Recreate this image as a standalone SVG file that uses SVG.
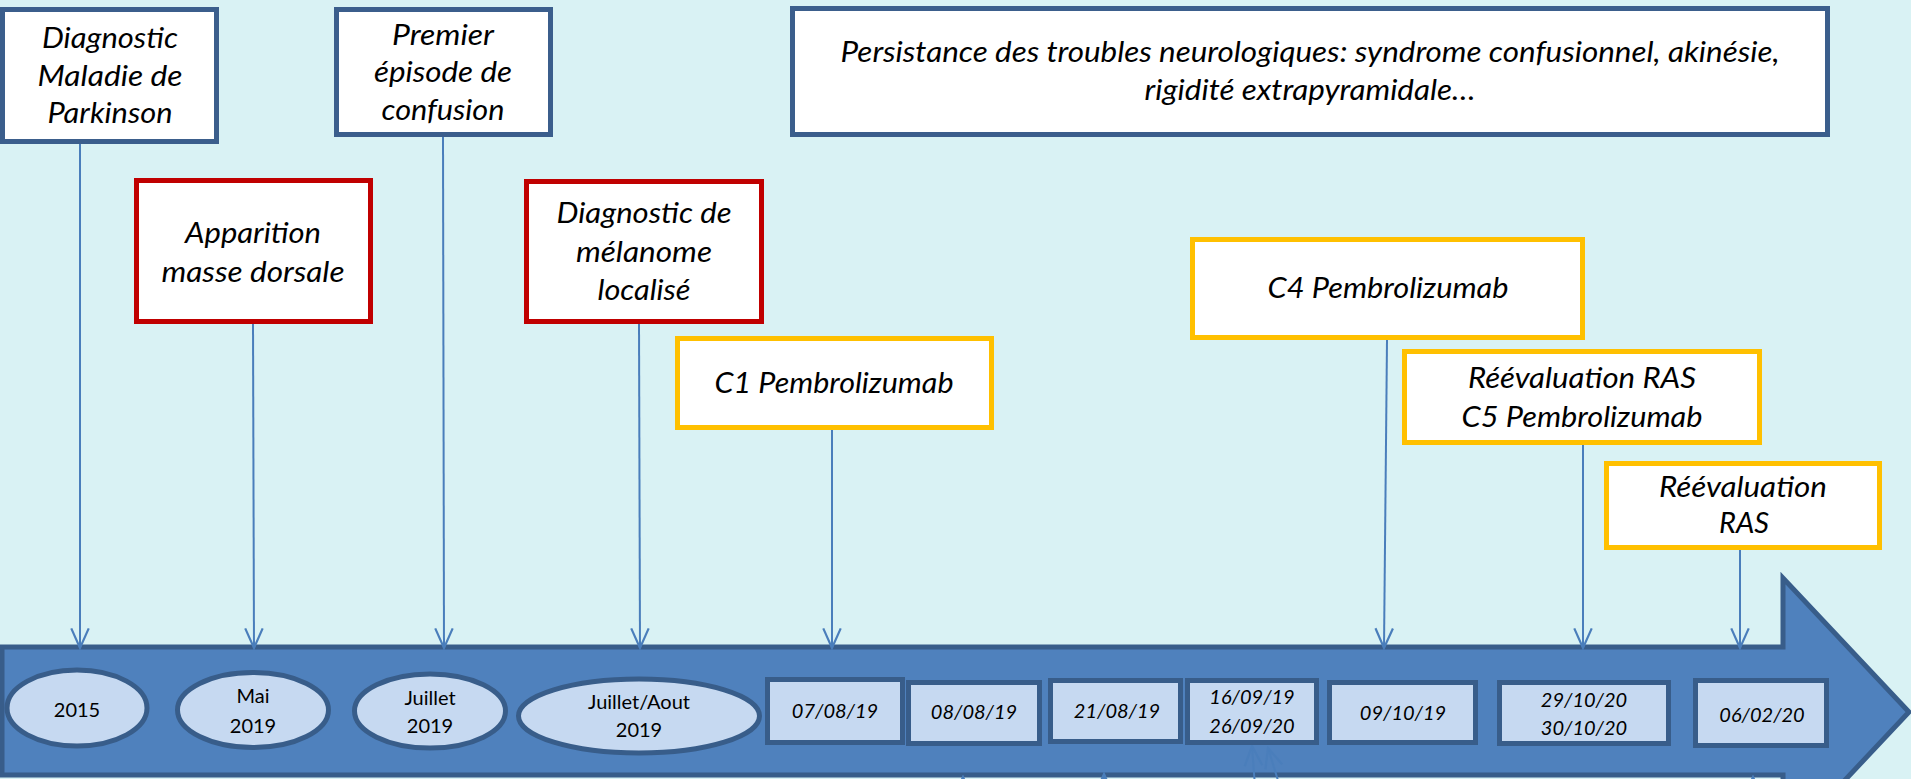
<svg xmlns="http://www.w3.org/2000/svg" width="1911" height="779" viewBox="0 0 1911 779">
<style>
.bg{fill:#d9f2f4}
.box{fill:#ffffff;stroke-width:5}
.blue{stroke:#3b5e8c}
.red{stroke:#c00000}
.yel{stroke:#ffc000}
.lbl{font-family:Lato,"Open Sans","Liberation Sans",sans-serif;font-style:italic;font-size:29px;fill:#000;text-anchor:middle}
.date{fill:#c6d9f1;stroke:#385d8a;stroke-width:5}
.dt{font-family:Lato,"Open Sans","Liberation Sans",sans-serif;font-style:italic;font-size:20px;fill:#000;text-anchor:middle}
.et{font-family:Lato,"Open Sans","Liberation Sans",sans-serif;font-size:20px;fill:#000;text-anchor:middle}
.con{stroke:#4a7ebb;stroke-width:2;fill:none}
.band{fill:#4f81bd;stroke:#385d8a;stroke-width:5;stroke-linejoin:miter}
</style>
<defs>
<marker id="ah" markerUnits="userSpaceOnUse" markerWidth="24" markerHeight="24" viewBox="-20 -10 22 20" refX="0" refY="0" orient="auto">
<path d="M-18,-8 L0,0 L-18,8" fill="none" stroke="#4a7ebb" stroke-width="2"/>
</marker>
</defs>
<rect class="bg" x="0" y="0" width="1911" height="779"/>

<g id="timeline">
<polygon class="band" points="2,647 1783,647 1783,578 1909,712 1783,846 1783,775 2,775"/>
</g>

<g id="connectors">
<line class="con" x1="80" y1="144" x2="80" y2="648" marker-end="url(#ah)"/>
<line class="con" x1="253" y1="324" x2="254" y2="648" marker-end="url(#ah)"/>
<line class="con" x1="443" y1="137" x2="444" y2="648" marker-end="url(#ah)"/>
<line class="con" x1="639" y1="324" x2="640" y2="648" marker-end="url(#ah)"/>
<line class="con" x1="832" y1="430" x2="832" y2="648" marker-end="url(#ah)"/>
<line class="con" x1="1387" y1="340" x2="1384" y2="648" marker-end="url(#ah)"/>
<line class="con" x1="1583" y1="445" x2="1583" y2="648" marker-end="url(#ah)"/>
<line class="con" x1="1740" y1="550" x2="1740" y2="648" marker-end="url(#ah)"/>
<line class="con" x1="1256" y1="800" x2="1252" y2="746" marker-end="url(#ah)"/>
<line class="con" x1="1284" y1="800" x2="1268" y2="748" marker-end="url(#ah)"/>
<line class="con" x1="1104" y1="800" x2="1104" y2="774" marker-end="url(#ah)"/>
<line class="con" x1="963" y1="800" x2="963" y2="777" marker-end="url(#ah)"/>
<line class="con" x1="1753" y1="800" x2="1753" y2="777" marker-end="url(#ah)"/>
</g>

<g id="n-parkinson">
<rect class="box blue" x="2.5" y="9.5" width="214" height="132"/>
<text class="lbl" x="110" y="48" textLength="136" lengthAdjust="spacingAndGlyphs">Diagnostic</text>
<text class="lbl" x="110" y="86" textLength="145" lengthAdjust="spacingAndGlyphs">Maladie de</text>
<text class="lbl" x="110" y="123" textLength="125" lengthAdjust="spacingAndGlyphs">Parkinson</text>
</g>

<g id="n-masse">
<rect class="box red" x="136.5" y="180.5" width="234" height="141"/>
<text class="lbl" x="253" y="243" textLength="136" lengthAdjust="spacingAndGlyphs">Apparition</text>
<text class="lbl" x="253" y="282" textLength="183" lengthAdjust="spacingAndGlyphs">masse dorsale</text>
</g>

<g id="n-confusion">
<rect class="box blue" x="336.5" y="9.5" width="214" height="125"/>
<text class="lbl" x="443" y="45" textLength="102" lengthAdjust="spacingAndGlyphs">Premier</text>
<text class="lbl" x="443" y="82" textLength="138" lengthAdjust="spacingAndGlyphs">épisode de</text>
<text class="lbl" x="443" y="120" textLength="123" lengthAdjust="spacingAndGlyphs">confusion</text>
</g>

<g id="n-melanome">
<rect class="box red" x="526.5" y="181.5" width="235" height="140"/>
<text class="lbl" x="644" y="223" textLength="175" lengthAdjust="spacingAndGlyphs">Diagnostic de</text>
<text class="lbl" x="644" y="262" textLength="136" lengthAdjust="spacingAndGlyphs">mélanome</text>
<text class="lbl" x="644" y="300" textLength="93" lengthAdjust="spacingAndGlyphs">localisé</text>
</g>

<g id="n-c1">
<rect class="box yel" x="677.5" y="338.5" width="314" height="89"/>
<text class="lbl" x="834" y="393" textLength="239" lengthAdjust="spacingAndGlyphs">C1 Pembrolizumab</text>
</g>

<g id="n-persistance">
<rect class="box blue" x="792.5" y="8.5" width="1035" height="126"/>
<text class="lbl" x="1310" y="62" textLength="939" lengthAdjust="spacingAndGlyphs">Persistance des troubles neurologiques: syndrome confusionnel, akinésie,</text>
<text class="lbl" x="1310" y="100" textLength="331" lengthAdjust="spacingAndGlyphs">rigidité extrapyramidale…</text>
</g>

<g id="n-c4">
<rect class="box yel" x="1192.5" y="239.5" width="390" height="98"/>
<text class="lbl" x="1388" y="298" textLength="241" lengthAdjust="spacingAndGlyphs">C4 Pembrolizumab</text>
</g>

<g id="n-c5">
<rect class="box yel" x="1404.5" y="351.5" width="355" height="91"/>
<text class="lbl" x="1582" y="388" textLength="228" lengthAdjust="spacingAndGlyphs">Réévaluation RAS</text>
<text class="lbl" x="1582" y="427" textLength="241" lengthAdjust="spacingAndGlyphs">C5 Pembrolizumab</text>
</g>

<g id="n-ras">
<rect class="box yel" x="1606.5" y="463.5" width="273" height="84"/>
<text class="lbl" x="1743" y="497" textLength="168" lengthAdjust="spacingAndGlyphs">Réévaluation</text>
<text class="lbl" x="1744" y="533" textLength="50" lengthAdjust="spacingAndGlyphs">RAS</text>
</g>

<g id="d-2015">
<ellipse class="date" cx="77" cy="708" rx="70" ry="38"/>
<text class="et" x="77" y="717">2015</text>
</g>
<g id="d-mai2019">
<ellipse class="date" cx="253" cy="710" rx="75.5" ry="37.5"/>
<text class="et" x="253" y="703">Mai</text>
<text class="et" x="253" y="733">2019</text>
</g>
<g id="d-juillet2019">
<ellipse class="date" cx="430" cy="711" rx="75.5" ry="37"/>
<text class="et" x="430" y="705">Juillet</text>
<text class="et" x="430" y="733">2019</text>
</g>
<g id="d-juilletaout2019">
<ellipse class="date" cx="639" cy="716" rx="120.5" ry="37"/>
<text class="et" x="639" y="709">Juillet/Aout</text>
<text class="et" x="639" y="737">2019</text>
</g>

<g id="d-070819">
<rect class="date" x="767.5" y="679.5" width="135" height="63"/>
<text class="dt" x="835" y="718">07/08/19</text>
</g>
<g id="d-080819">
<rect class="date" x="908.5" y="682.5" width="131" height="61"/>
<text class="dt" x="974" y="719">08/08/19</text>
</g>
<g id="d-210819">
<rect class="date" x="1050.5" y="680.5" width="130" height="61"/>
<text class="dt" x="1117" y="718">21/08/19</text>
</g>
<g id="d-160919">
<rect class="date" x="1187.5" y="680.5" width="129" height="62"/>
<text class="dt" x="1252" y="704">16/09/19</text>
<text class="dt" x="1252" y="733">26/09/20</text>
</g>
<g id="d-091019">
<rect class="date" x="1329.5" y="682.5" width="146" height="60"/>
<text class="dt" x="1403" y="720">09/10/19</text>
</g>
<g id="d-291020">
<rect class="date" x="1499.5" y="682.5" width="169" height="61"/>
<text class="dt" x="1584" y="707">29/10/20</text>
<text class="dt" x="1584" y="735">30/10/20</text>
</g>
<g id="d-060220">
<rect class="date" x="1695.5" y="680.5" width="131" height="65"/>
<text class="dt" x="1762" y="722">06/02/20</text>
</g>
</svg>
